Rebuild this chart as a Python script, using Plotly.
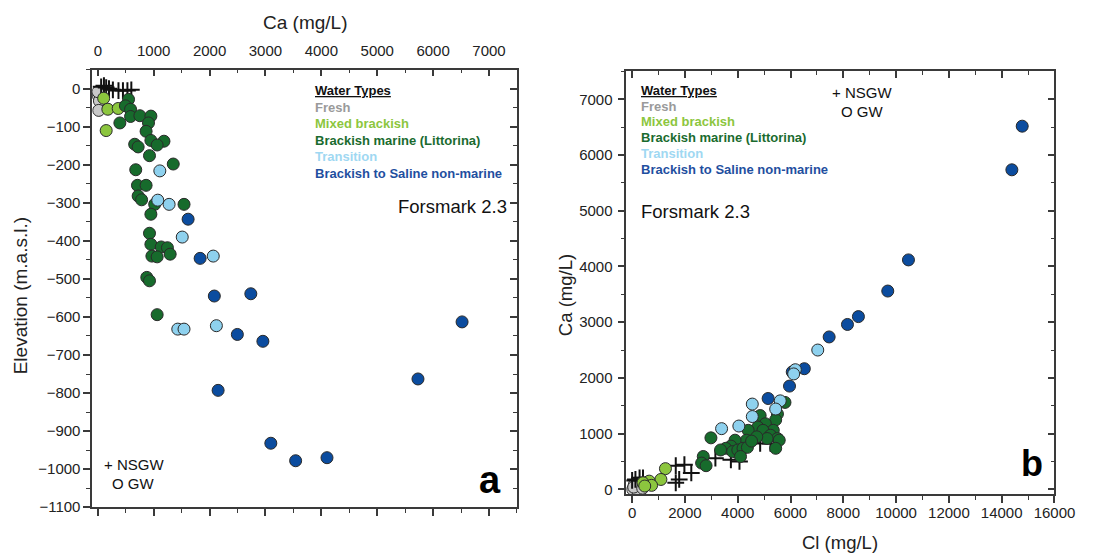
import plotly.graph_objects as go

# ---------------- Panel a: Ca vs Elevation ----------------
a_fresh_ca = [10, 29, 17, 5]
a_fresh_elev = [-19, -32, -57, -8]
a_mixed_ca = [105, 180, 365, 150]
a_mixed_elev = [-25, -54, -52, -110]
a_marine_ca = [550, 494, 586, 586, 395, 753, 950, 907, 864, 950, 1184, 1062, 660, 722, 925,
               1350, 679, 710, 864, 722, 784, 1018, 1543, 950, 925, 950, 1135, 1246, 968, 1062,
               1295, 877, 925, 1062]
a_marine_elev = [-28, -45, -54, -73, -90, -71, -72, -90, -112, -136, -138, -148, -146, -153, -176,
                 -198, -213, -254, -254, -282, -292, -304, -304, -330, -380, -409, -416, -418, -440, -442,
                 -435, -496, -505, -594]
a_trans_ca = [1110, 1073, 1276, 1511, 2066, 1431, 1543, 2122]
a_trans_elev = [-216, -293, -304, -390, -440, -632, -632, -623]
a_saline_ca = [1616, 1831, 2085, 2738, 2497, 2954, 2153, 3096, 3540, 4101, 5729, 6518]
a_saline_elev = [-343, -446, -545, -539, -646, -664, -793, -932, -978, -970, -763, -613]
a_nsgw_ca = [60, 110, 150, 200, 270, 370, 450, 530, 600]
a_nsgw_elev = [5, 8, 3, 0, -3, -5, -5, -5, -3]

# ---------------- Panel b: Cl vs Ca ----------------
b_fresh_cl = [20, 150, 282, 86, 345, 215, 60, 400]
b_fresh_ca = [0, 30, 59, 88, 12, -29, 40, 20]
b_mixed_cl = [1262, 1090, 646, 411, 737, 477]
b_mixed_ca = [371, 177, 147, 118, 71, 59]
b_marine_cl = [5790, 5505, 5438, 4850, 5046, 4760, 4396, 5348, 4956, 5242, 5505, 5572, 5438, 5113,
               4721, 4330, 3898, 3741, 3545, 3350, 3808, 4004, 4200, 4368, 4106, 2985, 2695, 2632,
               2801, 4525]
b_marine_ca = [1560, 1353, 1247, 1324, 1177, 1118, 1059, 1059, 1059, 971, 912, 882, 736, 912,
               942, 882, 882, 776, 736, 706, 677, 706, 736, 753, 589, 924, 589, 471,
               424, 865]
b_trans_cl = [7032, 6182, 6119, 4552, 5610, 5438, 4552, 4043, 3389]
b_trans_ca = [2500, 2147, 2071, 1530, 1588, 1441, 1306, 1136, 1089]
b_saline_cl = [14777, 14385, 10468, 9684, 8572, 8157, 7463, 6523, 6065, 5962, 5152]
b_saline_ca = [6518, 5735, 4118, 3559, 3100, 2959, 2735, 2165, 2107, 1853, 1630]
b_nsgw_cl = [0, 125, 282, 411, 1980, 1653, 2241, 1783, 1653, 3154, 3741, 4067, 4850, 5242]
b_nsgw_ca = [159, 177, 206, 206, 441, 424, 295, 177, 118, 559, 529, 500, 824, 824]

water_types = ["Fresh", "Mixed brackish", "Brackish marine (Littorina)", "Transition",
               "Brackish to Saline non-marine"]
marker_colors = ["#c8c8c8", "#8cc63e", "#176b2c", "#8ed1ee", "#0b4c9f"]
text_colors = ["#9a9a9a", "#8cc63e", "#1a6b2e", "#9fd8f2", "#1f4f9f"]

FONT = "Liberation Sans, Arial, sans-serif"
W, H = 1101, 560

fig = go.Figure()

def circles(x, y, color, xa, ya):
    fig.add_trace(go.Scatter(x=x, y=y, mode="markers", xaxis=xa, yaxis=ya, showlegend=False,
                             hoverinfo="skip",
                             marker=dict(symbol="circle", size=12, color=color,
                                         line=dict(color="#2a2a2a", width=1))))

def crosses(x, y, xa, ya):
    fig.add_trace(go.Scatter(x=x, y=y, mode="markers", xaxis=xa, yaxis=ya, showlegend=False,
                             hoverinfo="skip",
                             marker=dict(symbol="cross-thin", size=12, color="#111",
                                         line=dict(color="#111", width=2))))

# panel a
circles(a_fresh_ca, a_fresh_elev, marker_colors[0], "x", "y")
crosses(a_nsgw_ca, a_nsgw_elev, "x", "y")
circles(a_mixed_ca, a_mixed_elev, marker_colors[1], "x", "y")
circles(a_marine_ca, a_marine_elev, marker_colors[2], "x", "y")
circles(a_trans_ca, a_trans_elev, marker_colors[3], "x", "y")
circles(a_saline_ca, a_saline_elev, marker_colors[4], "x", "y")
# panel b
circles(b_fresh_cl, b_fresh_ca, marker_colors[0], "x2", "y2")
crosses(b_nsgw_cl, b_nsgw_ca, "x2", "y2")
circles(b_mixed_cl, b_mixed_ca, marker_colors[1], "x2", "y2")
circles(b_marine_cl, b_marine_ca, marker_colors[2], "x2", "y2")
circles(b_saline_cl, b_saline_ca, marker_colors[4], "x2", "y2")
circles(b_trans_cl, b_trans_ca, marker_colors[3], "x2", "y2")

# empty traces so the frame (overlay) axes render
fig.add_trace(go.Scatter(x=[], y=[], xaxis="x3", yaxis="y3", showlegend=False))
fig.add_trace(go.Scatter(x=[], y=[], xaxis="x4", yaxis="y4", showlegend=False))

A_X = [94 / W, 527 / W]
A_Y = [1 - 514.5 / H, 1 - 70.7 / H]
B_X = [638.5 / W, 1075 / W]
B_Y = [1 - 501.5 / H, 1 - 72.5 / H]

a_xrange = [-100, 7500]
a_yrange = [-1100, 50]
b_xrange = [-220, 16000]
b_yrange = [-90, 7500]

LINE = dict(showline=True, linecolor="#3a3a3a", linewidth=1.5, showgrid=False, zeroline=False,
            tickcolor="#3a3a3a", tickwidth=1.5, ticklen=7, tickformat="d",
            tickfont=dict(family=FONT, size=15, color="#222"))

def minor(d, ticks):
    return dict(dtick=d, ticks=ticks, ticklen=4, tickcolor="#3a3a3a", tickwidth=1.2, showgrid=False)

fig.update_layout(
    width=W, height=H, margin=dict(l=0, r=0, t=0, b=0),
    paper_bgcolor="white", plot_bgcolor="white",
    font=dict(family=FONT, color="#222"),
    xaxis=dict(domain=A_X, anchor="y", side="top", range=a_xrange, dtick=1000, tick0=0,
               ticks="inside", minor=minor(500, "inside"), ticklabelstandoff=6, **LINE),
    yaxis=dict(domain=A_Y, anchor="x", range=a_yrange, dtick=100, tick0=0,
               ticks="outside", minor=minor(50, "outside"), **LINE),
    xaxis3=dict(overlaying="x", anchor="y3", side="bottom", range=a_xrange, dtick=1000, tick0=0,
                ticks="outside", minor=minor(500, "outside"), showticklabels=False, **LINE),
    yaxis3=dict(overlaying="y", anchor="x3", side="right", range=a_yrange, dtick=100, tick0=0,
                ticks="inside", minor=minor(50, "inside"), showticklabels=False, **LINE),
    xaxis2=dict(domain=B_X, anchor="y2", side="bottom", range=b_xrange, dtick=2000, tick0=0,
                ticks="outside", minor=minor(1000, "outside"), ticklabelstandoff=-3, **LINE),
    yaxis2=dict(domain=B_Y, anchor="x2", range=b_yrange, dtick=1000, tick0=0,
                ticks="outside", minor=minor(500, "outside"), ticklabelstandoff=2, **LINE),
    xaxis4=dict(overlaying="x2", anchor="y4", side="top", range=b_xrange, dtick=2000, tick0=0,
                ticks="inside", minor=minor(1000, "inside"), showticklabels=False, **LINE),
    yaxis4=dict(overlaying="y2", anchor="x4", side="right", range=b_yrange, dtick=1000, tick0=0,
                ticks="inside", minor=minor(500, "inside"), showticklabels=False, **LINE),
)

ann = []

def P(px, py):
    return px / W, 1 - py / H

def text(px, py, s, size, color="#111", xanchor="left", angle=0):
    x, y = P(px, py)
    ann.append(dict(xref="paper", yref="paper", x=x, y=y, xanchor=xanchor, yanchor="middle",
                    showarrow=False, text=s, textangle=angle,
                    font=dict(family=FONT, size=size, color=color)))

def legend_block(px, py, step):
    text(px, py, "<b><u>Water Types</u></b>", 13, "#111")
    for i, (name, c) in enumerate(zip(water_types, text_colors)):
        text(px, py + (i + 1) * step, "<b>" + name + "</b>", 13, c)

# axis titles
text(310.5, 22.7, "Ca (mg/L)", 19, "#222", "center")
text(21, 300, "Elevation (m.a.s.l.)", 19, "#222", "center", -90)
text(576.4, 299, "Ca (mg/L)", 18.5, "#222", "center", -90)
text(856.7, 550, "Cl (mg/L)", 18.5, "#222", "center")

# panel a texts
legend_block(319, 92.3, 16.7)
text(403.7, 209, "Forsmark 2.3", 18.5)
text(104, 471.7, "+ NSGW", 15)
text(112, 490.7, "O GW", 15)
text(513, 486.7, "<b>a</b>", 38, "#000", "right")

# panel b texts
legend_block(651, 91.7, 16)
text(651, 215, "Forsmark 2.3", 18.5)
text(846, 94.3, "+ NSGW", 15)
text(855, 112.7, "O GW", 15)
text(1065, 470, "<b>b</b>", 36, "#000", "right")

fig.update_layout(annotations=ann)
fig.write_html("out.html")
